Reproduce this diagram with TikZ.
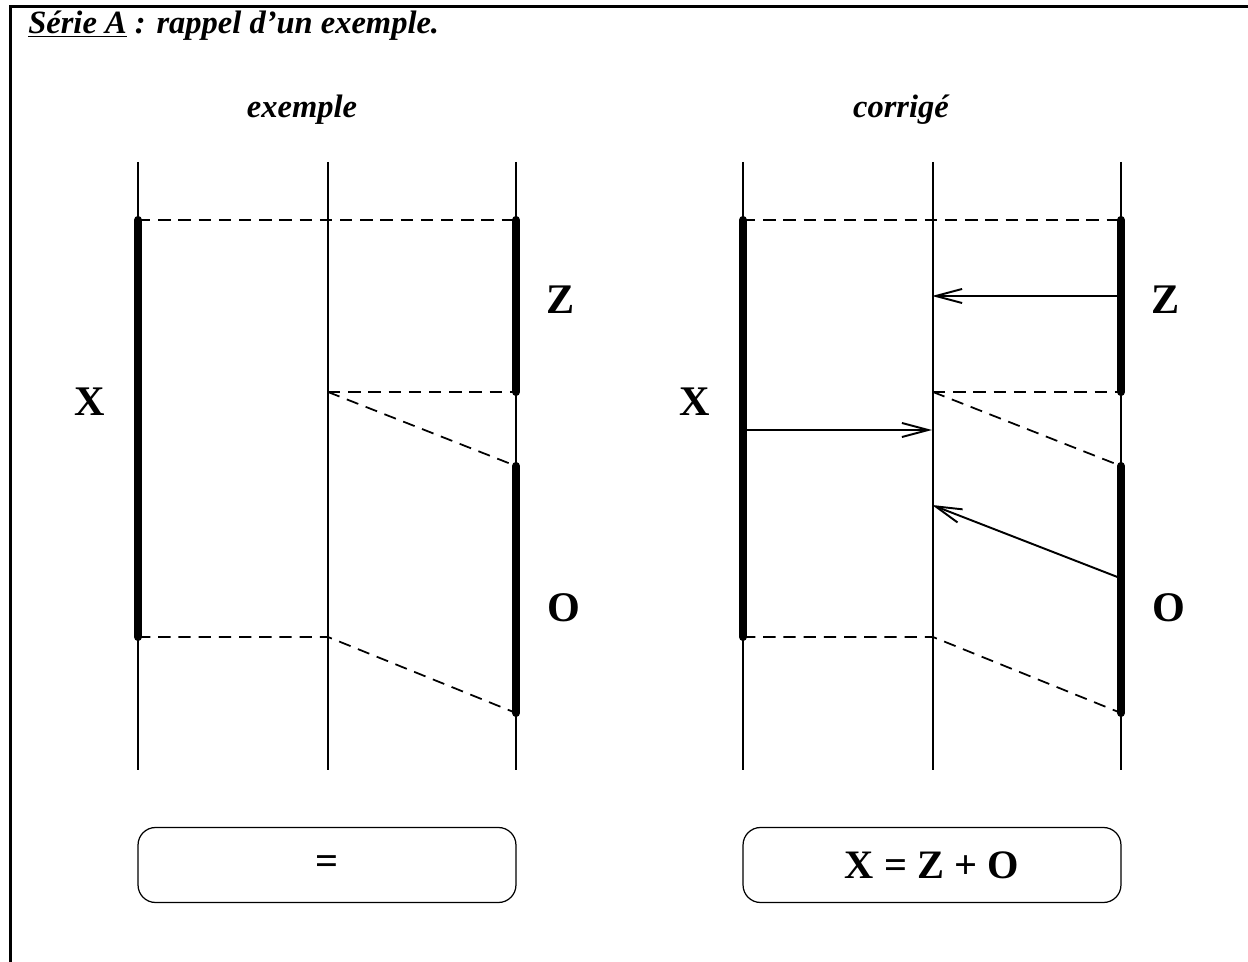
\documentclass[tikz,border=0pt]{standalone}
\usepackage{fontspec}
\setmainfont{Liberation Serif}
\usetikzlibrary{arrows.meta,positioning}

\tikzset{
  axis/.style={line width=1pt},
  seg/.style={line width=4.6pt, line cap=round},
  link/.style={line width=1pt, dash pattern=on 7pt off 4.5pt},
  move/.style={line width=1.1pt, -{Straight Barb[length=15pt,width=8pt,line width=1.1pt]}},
  tag/.style={font=\fontsize{24}{28}\selectfont\bfseries},
  head/.style={font=\fontsize{18.5}{22}\selectfont\bfseries\itshape, anchor=base},
  result/.style={draw, line width=0.7pt, rounded corners=0.35cm, minimum width=7.56cm,
    minimum height=1.5cm, font=\fontsize{23}{26}\selectfont\bfseries},
}

\begin{document}
\begin{tikzpicture}[x=0.02cm, y=-0.02cm]
    \useasboundingbox (0,0) rectangle (1248,962);
    % frame and title
    \coordinate (fr-bl) at (10.5,962);
    \coordinate (fr-tl) at (10.5,6.5);
    \coordinate (fr-tr) at (1248,6.5);
    \draw[line width=1.5pt] (fr-bl) -- (fr-tl) -- (fr-tr);
    \node[anchor=base west, inner sep=0pt, font=\fontsize{18.5}{22}\selectfont\bfseries\itshape]
        (title) at (28,34) {\underline{Série A} : rappel d’un exemple.};

    \foreach \dx/\p/\hd/\hx/\eq in {0/L/exemple/302/{=}, 605/R/corrigé/901/{X = Z + O}} {
        % the three time lines
        \foreach \c/\xx in {1/138, 2/328, 3/516} {
            \coordinate (\p\c-top) at ({\xx+\dx},162);
            \coordinate (\p\c-bot) at ({\xx+\dx},770);
            \draw[axis] (\p\c-top) -- (\p\c-bot);
        }
        \coordinate (\p1-a) at ({138+\dx},220);
        \coordinate (\p1-b) at ({138+\dx},637);
        \coordinate (\p2-a) at ({328+\dx},392);
        \coordinate (\p2-b) at ({328+\dx},637);
        \coordinate (\p3-a) at ({516+\dx},220);
        \coordinate (\p3-b) at ({516+\dx},392);
        \coordinate (\p3-c) at ({516+\dx},466);
        \coordinate (\p3-d) at ({516+\dx},713);

        \draw[seg] (\p1-a) -- (\p1-b);
        \draw[seg] (\p3-a) -- (\p3-b);
        \draw[seg] (\p3-c) -- (\p3-d);

        \draw[link] (\p1-a) -- (\p3-a);
        \draw[link] (\p2-a) -- (\p3-b);
        \draw[link] (\p2-a) -- (\p3-c);
        \draw[link] (\p1-b) -- (\p2-b) -- (\p3-d);

        \node[head] (\p-head) at (\hx,118) {\hd};
        \node[tag] (\p-X) at ({90+\dx},402) {X};
        \node[tag] (\p-Z) at ({561+\dx},300) {Z};
        \node[tag] (\p-O) at ({564+\dx},608) {O};
        \node[result] (\p-box) at ({327+\dx},865) {\eq};
    }

    % moves of the corrected version
    \coordinate (zs) at (1120,296);
    \coordinate (ze) at (932,296);
    \coordinate (xs) at (743,430);
    \coordinate (xe) at (932,430);
    \coordinate (os) at (1120,578);
    \coordinate (oe) at (932,505);
    \draw[move] (zs) -- (ze);
    \draw[move] (xs) -- (xe);
    \draw[move] (os) -- (oe);
\end{tikzpicture}
\end{document}
